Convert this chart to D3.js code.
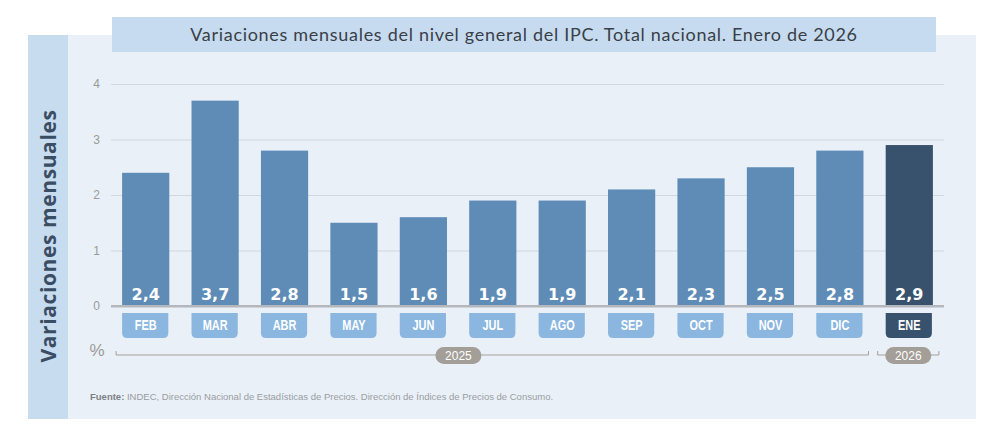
<!DOCTYPE html>
<html>
<head>
<meta charset="utf-8">
<script src="https://cdn.jsdelivr.net/npm/d3@7"></script>
<style>
  body { margin: 0; background: #fff; }
  svg { display: block; }
</style>
</head>
<body>
<div id="chart"></div>
<script>
const width = 990;
const height = 426;

// Data
const months = ["FEB", "MAR", "ABR", "MAY", "JUN", "JUL", "AGO", "SEP", "OCT", "NOV", "DIC", "ENE"];
const values = [2.4, 3.7, 2.8, 1.5, 1.6, 1.9, 1.9, 2.1, 2.3, 2.5, 2.8, 2.9];
const years = [
  {label: "2025", first: "FEB", last: "DIC"},
  {label: "2026", first: "ENE", last: "ENE"}
];
const yTicks = [0, 1, 2, 3, 4];
const data = months.map((m, i) => ({month: m, value: values[i]}));

const svg = d3.select("#chart")
  .append("svg")
    .attr("width", width)
    .attr("height", height);

// Background panels
svg.append("rect")
  .attr("x", 28).attr("y", 35)
  .attr("width", 948).attr("height", 384)
  .attr("fill", "#e9f0f8");
svg.append("rect")
  .attr("x", 28).attr("y", 35)
  .attr("width", 40).attr("height", 384)
  .attr("fill", "#c8dcf0");

// Title
svg.append("rect")
  .attr("x", 112).attr("y", 17)
  .attr("width", 824).attr("height", 35)
  .attr("fill", "#c6dbf0");
svg.append("text")
  .attr("x", 524).attr("y", 41)
  .attr("text-anchor", "middle")
  .attr("font-family", "Lato, 'Open Sans', sans-serif")
  .attr("font-size", 18)
  .attr("letter-spacing", 0.7)
  .attr("fill", "#3a3f47")
  .text("Variaciones mensuales del nivel general del IPC. Total nacional. Enero de 2026");

// Y label
svg.append("text")
  .attr("transform", "translate(56, 236) rotate(-90)")
  .attr("text-anchor", "middle")
  .attr("font-family", "'Open Sans', sans-serif")
  .attr("font-weight", "bold")
  .attr("font-size", 21)
  .attr("letter-spacing", 0.6)
  .attr("fill", "#3b4d63")
  .text("Variaciones mensuales");

// Scales
const xScale = d3.scaleBand()
  .domain(months)
  .range([111, 944])
  .paddingInner(0.32)
  .paddingOuter(0.16);

const yScale = d3.scaleLinear()
  .domain([0, 4])
  .range([306, 84]);

// Grid + y axis
const leftAxis = d3.axisLeft(yScale)
  .tickValues(yTicks)
  .tickFormat(d3.format("d"))
  .tickSize(-(944 - 111))
  .tickPadding(11);
const yAxis = svg.append("g")
  .attr("transform", "translate(111, 0)")
  .call(leftAxis);
yAxis.select(".domain").remove();
yAxis.selectAll("line")
  .attr("stroke", d => d === 0 ? "#b4b7bc" : "#d3d6db")
  .attr("stroke-width", d => d === 0 ? 2 : 1);
yAxis.selectAll("text")
  .attr("font-family", "'Liberation Sans', Arial, sans-serif")
  .attr("font-size", 12)
  .attr("fill", "#9a9a9a");

// Bars
const isLast = d => d.month === "ENE";
svg.append("g")
  .selectAll("rect")
  .data(data)
  .join("rect")
    .attr("x", d => xScale(d.month))
    .attr("y", d => yScale(d.value))
    .attr("width", xScale.bandwidth())
    .attr("height", d => yScale(0) - yScale(d.value) - 1)
    .attr("fill", d => isLast(d) ? "#38526d" : "#5e8cb7");

// Baseline on top
svg.append("line")
  .attr("x1", 111).attr("x2", 944)
  .attr("y1", yScale(0)).attr("y2", yScale(0))
  .attr("stroke", "#b4b7bc")
  .attr("stroke-width", 2);

// Value labels
svg.append("g")
  .selectAll("text")
  .data(data)
  .join("text")
    .attr("x", d => xScale(d.month) + xScale.bandwidth() / 2)
    .attr("y", 300)
    .attr("text-anchor", "middle")
    .attr("font-family", "'DejaVu Sans', sans-serif")
    .attr("font-weight", "bold")
    .attr("font-size", 16)
    .attr("fill", "#fff")
    .text(d => d3.format(".1f")(d.value).replace(".", ","));

// Month boxes
const boxH = 25;
const r = 5;
const boxPath = (x, y, w, h) =>
  `M${x},${y}H${x + w}V${y + h - r}Q${x + w},${y + h} ${x + w - r},${y + h}H${x + r}Q${x},${y + h} ${x},${y + h - r}Z`;
const monthG = svg.append("g")
  .selectAll("g")
  .data(data)
  .join("g");
monthG.append("path")
  .attr("d", d => boxPath(xScale(d.month), 313, xScale.bandwidth() - 1, boxH))
  .attr("fill", d => isLast(d) ? "#38526d" : "#8ab6e0");
monthG.append("text")
  .attr("transform", d => `translate(${xScale(d.month) + xScale.bandwidth() / 2}, 330) scale(0.78, 1)`)
  .attr("text-anchor", "middle")
  .attr("font-family", "'Liberation Sans', sans-serif")
  .attr("font-weight", "bold")
  .attr("font-size", 14)
  .attr("fill", "#fff")
  .text(d => d.month);

// %
svg.append("text")
  .attr("x", 97).attr("y", 356)
  .attr("text-anchor", "middle")
  .attr("font-family", "'Liberation Sans', sans-serif")
  .attr("font-size", 17)
  .attr("fill", "#9a9a9a")
  .text("%");

// Year brackets
const bracketY = 355;
const yearG = svg.append("g")
  .selectAll("g")
  .data(years)
  .join("g");
const x0 = d => xScale(d.first) - (d.first === "FEB" ? 6 : 8);
const x1 = d => xScale(d.last) + xScale.bandwidth() + (d.last === "DIC" ? 5 : 6);
// the 2025 pill sits a little left of the bracket centre
const pillX = d => d.label === "2025" ? x0(d) + (x1(d) - x0(d)) * 0.455 : (x0(d) + x1(d)) / 2;
yearG.append("path")
  .attr("d", d => `M${x0(d)},${bracketY - 4}V${bracketY}H${x1(d)}V${bracketY - 4}`)
  .attr("fill", "none")
  .attr("stroke", "#a5a19b")
  .attr("stroke-width", 1);
yearG.append("rect")
  .attr("x", d => pillX(d) - 23)
  .attr("y", bracketY - 8)
  .attr("width", 46)
  .attr("height", 17)
  .attr("rx", 8.5)
  .attr("fill", "#a39e97");
yearG.append("text")
  .attr("x", d => pillX(d))
  .attr("y", bracketY + 5)
  .attr("text-anchor", "middle")
  .attr("font-family", "'Liberation Sans', sans-serif")
  .attr("font-size", 12)
  .attr("fill", "#fff")
  .text(d => d.label);

// Source
const src = svg.append("text")
  .attr("x", 90).attr("y", 400)
  .attr("font-family", "'Liberation Sans', Arial, sans-serif")
  .attr("font-size", 9.5)
  .attr("fill", "#9a9da2");
src.append("tspan").attr("font-weight", "bold").attr("fill", "#7d8187").text("Fuente:");
src.append("tspan").text(" INDEC, Dirección Nacional de Estadísticas de Precios. Dirección de Índices de Precios de Consumo.");
</script>
</body>
</html>
